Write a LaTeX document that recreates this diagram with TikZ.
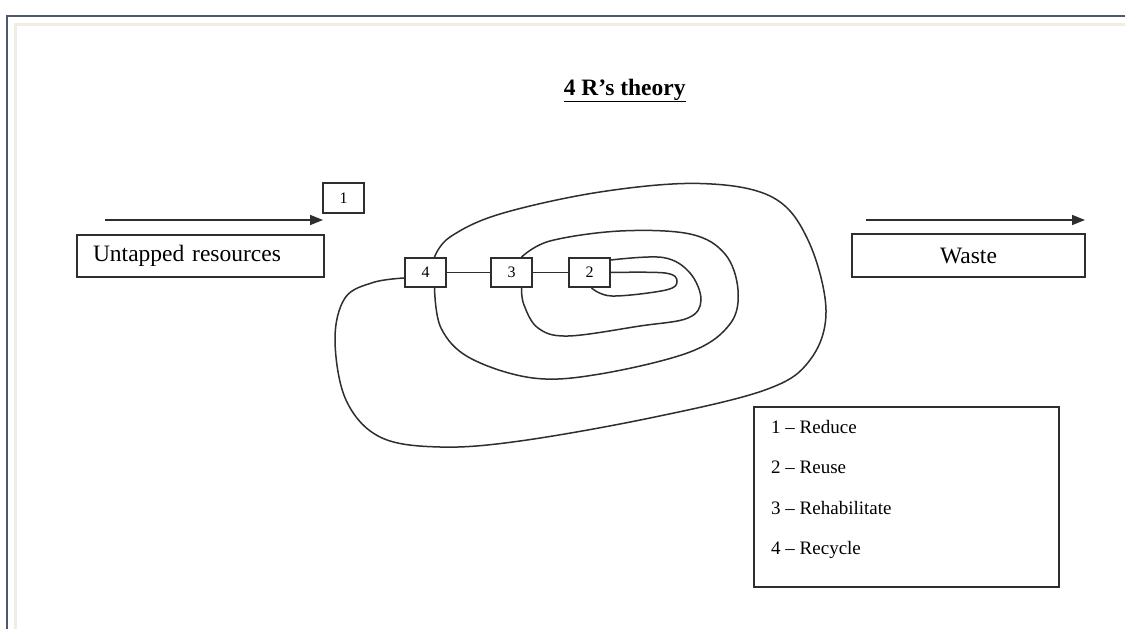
\documentclass[tikz,border=0pt]{standalone}
\usepackage{fontspec}
\setmainfont{Liberation Serif}
\usetikzlibrary{arrows.meta}
\definecolor{framedark}{HTML}{4A5A74}
\definecolor{framelight}{HTML}{EEEEE2}
\definecolor{ink}{HTML}{2E2E2E}
\tikzset{
  box/.style={draw=ink, line width=1.8pt, rectangle, inner sep=0pt},
  numbox/.style={box, minimum width=41pt, minimum height=29pt, font=\fontsize{16}{19}\selectfont},
  bigtext/.style={font=\fontsize{23.5}{28}\selectfont},
  curve/.style={draw=ink, line width=1.5pt},
  flow/.style={draw=ink, line width=1.6pt, -{Triangle[length=13pt,width=10pt]}},
  legendtext/.style={anchor=base west, inner sep=0pt, font=\fontsize{19}{22}\selectfont},
}
\begin{document}
\begin{tikzpicture}[x=1pt,y=-1pt]
\useasboundingbox (0,0) rectangle (1125,629);
\fill[white] (0,0) rectangle (1125,629);
% frame
\draw[framedark, line width=2pt] (7,629) -- (7,16) -- (1125,16);
\draw[framelight, line width=3pt] (15,629) -- (15,24.5) -- (1125,24.5);

% title
\node[bigtext, anchor=base, inner sep=0pt] (title) at (624.7,95)
  {\textbf{\underline{4 R’s theory}}};

% side boxes
\node[box, bigtext, minimum height=42pt, text width=215pt, align=left, inner xsep=16pt]
  (untapped) at (200.5,256) {Untapped resources};
\node[box, bigtext, minimum width=233pt, minimum height=43pt] (waste) at (968.5,255.5) {Waste};

% arrows
\coordinate (la1) at (105,220);
\coordinate (la2) at (323,220);
\coordinate (ra1) at (866,220);
\coordinate (ra2) at (1085,220);
\draw[flow] (la1) -- (la2);
\draw[flow] (ra1) -- (ra2);

% number boxes
\node[numbox, minimum height=30pt] (b1) at (343.5,198) {1};
\node[numbox] (b4) at (425.5,272.5) {4};
\node[numbox] (b3) at (511.5,272.5) {3};
\node[numbox] (b2) at (589.5,272.5) {2};

% straight links
\draw[curve] (b4.east) -- (b3.west);
\draw[curve] (b3.east) -- (b2.west);

% outer loop D
\draw[curve] plot[smooth, tension=0.6] coordinates {
  ([xshift=9pt]b4.north) (450,237) (500,214) (600,192) (700,183.5) (772,197)
  (808,240) (826,310) (810,360) (765,390) (650,418) (520,441) (440,447)
  (380,437) (346,400) (335,340) (345,298) (373,282.5) ([yshift=-5.5pt]b4.west)};

% loop C
\draw[curve] plot[smooth, tension=0.6] coordinates {
  ([xshift=9pt]b4.south) (441,328) (470,358) (533,378) (600,374)
  (690,352) (730,324) (738,290) (725,254) (690,234) (620,231)
  (550,241) ([xshift=10pt]b3.north)};

% loop B
\draw[curve] plot[smooth, tension=0.6] coordinates {
  ([yshift=12.5pt]b2.east) (663,257.5) (690,273) (701,300) (688,318)
  (640,326) (568,336) (538,328) (524,305) ([xshift=10pt]b3.south)};

% loop A
\draw[curve] plot[smooth, tension=0.6] coordinates {
  (b2.east) (665,273) (677,281) (666,290) (612,296) ([xshift=2pt]b2.south)};

% legend
\node[box, minimum width=305pt, minimum height=180pt] (legend) at (906.5,497) {};
\node[legendtext] (l1) at (771,433) {1 – Reduce};
\node[legendtext] (l2) at (771,473) {2 – Reuse};
\node[legendtext] (l3) at (771,514) {3 – Rehabilitate};
\node[legendtext] (l4) at (771,554) {4 – Recycle};
\end{tikzpicture}
\end{document}
